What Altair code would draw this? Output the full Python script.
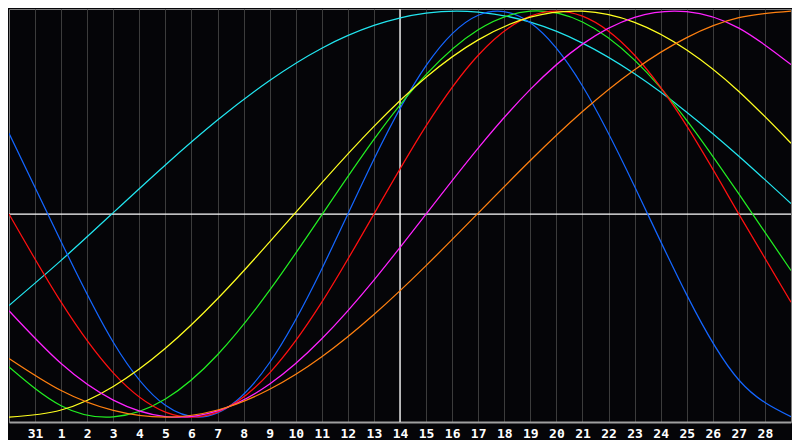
import altair as alt
import pandas as pd

# sample positions (grid index: 0 = day 30, 1 = day 31, 2 = day 1, ... 30 = day 29)
positions = [0, 2, 4, 6, 8, 10, 12, 14, 16, 18, 20, 22, 24, 26, 28, 30]

physical = [0.398, -0.136, -0.631, -0.942, -0.979, -0.731, -0.270, 0.270,
            0.731, 0.979, 0.942, 0.631, 0.136, -0.398, -0.817, -0.998]
emotional = [0.0, -0.434, -0.782, -0.975, -0.975, -0.782, -0.434, 0.0,
             0.434, 0.782, 0.975, 0.975, 0.782, 0.434, 0.0, -0.434]
intellectual = [-0.753, -0.944, -0.999, -0.911, -0.693, -0.375, -0.004, 0.368,
                0.687, 0.908, 0.999, 0.946, 0.758, 0.462, 0.099, -0.278]
intuitive = [-0.476, -0.736, -0.916, -0.997, -0.969, -0.837, -0.614, -0.325,
             0.0, 0.325, 0.614, 0.837, 0.969, 0.997, 0.916, 0.736]
aesthetic = [-1.0, -0.965, -0.849, -0.661, -0.417, -0.137, 0.154, 0.432,
             0.674, 0.858, 0.970, 0.999, 0.944, 0.808, 0.604, 0.349]
awareness = [-0.711, -0.869, -0.967, -1.0, -0.965, -0.863, -0.703, -0.495,
             -0.254, 0.005, 0.264, 0.505, 0.711, 0.869, 0.967, 1.0]
spiritual = [-0.450, -0.228, 0.007, 0.242, 0.463, 0.658, 0.817, 0.929,
             0.990, 0.995, 0.945, 0.842, 0.691, 0.502, 0.285, 0.052]

series_names = ["Spiritual", "Physical", "Intellectual", "Emotional",
                "Aesthetic", "Intuitive", "Awareness"]
series_values = [spiritual, physical, intellectual, emotional,
                 aesthetic, intuitive, awareness]
series_colors = ["#22e6f0", "#1466ff", "#22ee22", "#ff1010",
                 "#ffff20", "#ff22ff", "#ff8010"]

tick_positions = [1, 2, 3, 4, 5, 6, 7, 8, 9, 10, 11, 12, 13, 14, 15,
                  16, 17, 18, 19, 20, 21, 22, 23, 24, 25, 26, 27, 28, 29]
tick_labels = ["31", "1", "2", "3", "4", "5", "6", "7", "8", "9", "10", "11",
               "12", "13", "14", "15", "16", "17", "18", "19", "20", "21",
               "22", "23", "24", "25", "26", "27", "28"]

today_pos = [15]
zero_line = [0]

rows = []
for name, vals in zip(series_names, series_values):
    for p, v in zip(positions, vals):
        rows.append({"pos": p, "value": v, "series": name})
df = pd.DataFrame(rows)

label_expr = "[" + ",".join("'%s'" % s for s in tick_labels) + "][datum.value - 1]"

x_enc = alt.X(
    "pos:Q",
    scale=alt.Scale(domain=[0, 30], nice=False, zero=False),
    axis=alt.Axis(
        values=tick_positions,
        labelExpr=label_expr,
        title=None,
        grid=True,
        gridColor="#3c3c3c",
        gridWidth=1,
        ticks=False,
        domain=True,
        domainColor="#a0a0a0",
        domainWidth=2,
        labelColor="#ffffff",
        labelFont="DejaVu Sans Mono",
        labelFontWeight="bold",
        labelFontSize=13,
        labelPadding=5,
        labelAngle=0,
        labelFlush=False,
        labelOverlap=False,
    ),
)
y_scale = alt.Scale(domain=[-1.024, 1.01], nice=False, zero=False)

vrule = alt.Chart(pd.DataFrame({"pos": today_pos})).mark_rule(
    color="#ffffff", strokeWidth=1.3
).encode(x=x_enc)

hrule = alt.Chart(pd.DataFrame({"value": zero_line})).mark_rule(
    color="#ffffff", strokeWidth=1.3
).encode(y=alt.Y("value:Q", scale=y_scale, axis=None))

lines = alt.Chart(df).mark_line(strokeWidth=1.25, interpolate="natural", clip=True).encode(
    x=x_enc,
    y=alt.Y("value:Q", scale=y_scale, axis=None),
    color=alt.Color("series:N", scale=alt.Scale(domain=series_names, range=series_colors),
                    legend=None),
)

chart = alt.layer(vrule, hrule, lines).properties(
    width=784,
    height=432,
    autosize=alt.AutoSizeParams(type="fit", contains="padding"),
    padding=0,
    background="#050508",
).configure_view(stroke="#7a7a7a", strokeWidth=1)

chart.save("out.html", embed_options={"renderer": "svg", "actions": False})
